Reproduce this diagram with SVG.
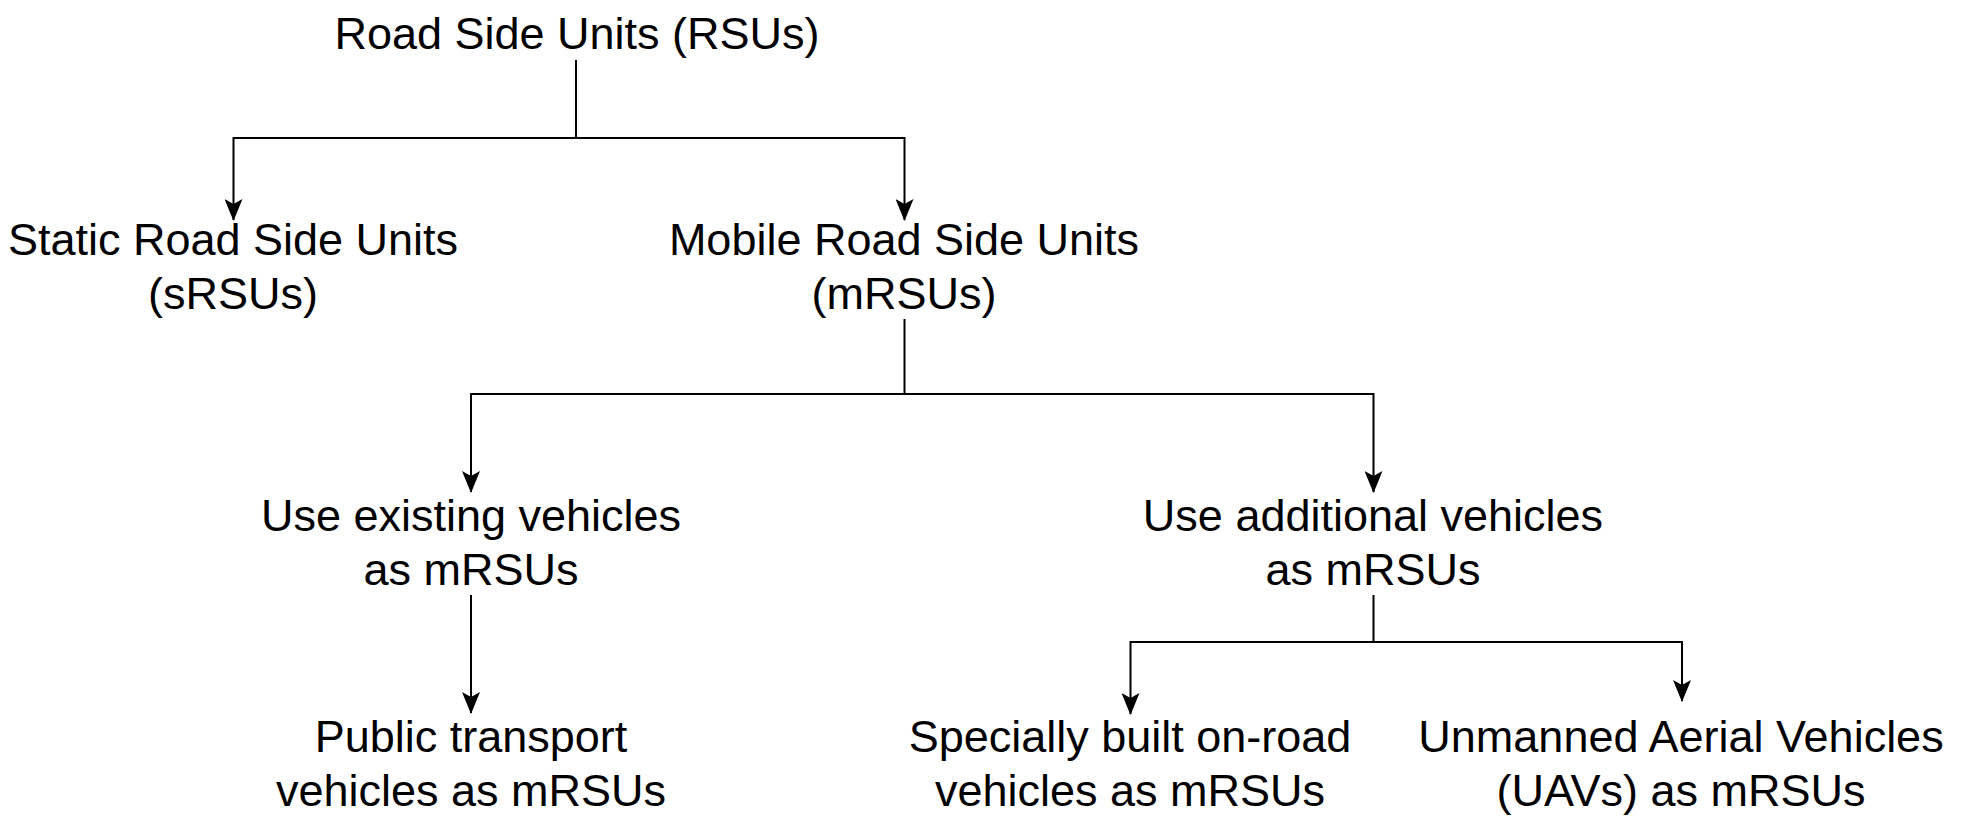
<svg xmlns="http://www.w3.org/2000/svg" width="1964" height="832" viewBox="0 0 1964 832">
  <defs>
    <style>
      .lbl { font-family: "Liberation Sans", Arial, Helvetica, sans-serif; font-size: 45px; fill: #000000; text-anchor: middle; }
      .edge { fill: none; stroke: #000000; stroke-width: 2; }
    </style>
    <marker id="arrow" markerUnits="userSpaceOnUse" markerWidth="22" markerHeight="18" viewBox="0 0 22 18" refX="21" refY="9" orient="auto">
      <path d="M0,0 L22,9 L0,18 L5,9 Z" fill="#000000"/>
    </marker>
  </defs>
  <rect x="0" y="0" width="1964" height="832" fill="#ffffff"/>

  <g id="connectors">
    <path class="edge" d="M576,60 V138 H233.5 V220" marker-end="url(#arrow)"/>
    <path class="edge" d="M576,138 H904.5 V220" marker-end="url(#arrow)"/>
    <path class="edge" d="M904.5,319 V394 H471 V492" marker-end="url(#arrow)"/>
    <path class="edge" d="M904.5,394 H1373.5 V492" marker-end="url(#arrow)"/>
    <path class="edge" d="M471,595 V713" marker-end="url(#arrow)"/>
    <path class="edge" d="M1373.5,595 V642 H1130.5 V714" marker-end="url(#arrow)"/>
    <path class="edge" d="M1373.5,642 H1682 V701" marker-end="url(#arrow)"/>
  </g>

  <g id="node-rsu">
    <text class="lbl" x="577" y="49">Road Side Units (RSUs)</text>
  </g>
  <g id="node-srsu">
    <text class="lbl" x="233" y="255">Static Road Side Units</text>
    <text class="lbl" x="233" y="309">(sRSUs)</text>
  </g>
  <g id="node-mrsu">
    <text class="lbl" x="904" y="255">Mobile Road Side Units</text>
    <text class="lbl" x="904" y="309">(mRSUs)</text>
  </g>
  <g id="node-existing">
    <text class="lbl" x="471" y="531">Use existing vehicles</text>
    <text class="lbl" x="471" y="585">as mRSUs</text>
  </g>
  <g id="node-additional">
    <text class="lbl" x="1373" y="531">Use additional vehicles</text>
    <text class="lbl" x="1373" y="585">as mRSUs</text>
  </g>
  <g id="node-public">
    <text class="lbl" x="471" y="752">Public transport</text>
    <text class="lbl" x="471" y="806">vehicles as mRSUs</text>
  </g>
  <g id="node-special">
    <text class="lbl" x="1130" y="752">Specially built on-road</text>
    <text class="lbl" x="1130" y="806">vehicles as mRSUs</text>
  </g>
  <g id="node-uav">
    <text class="lbl" x="1681" y="752">Unmanned Aerial Vehicles</text>
    <text class="lbl" x="1681" y="806">(UAVs) as mRSUs</text>
  </g>
</svg>
